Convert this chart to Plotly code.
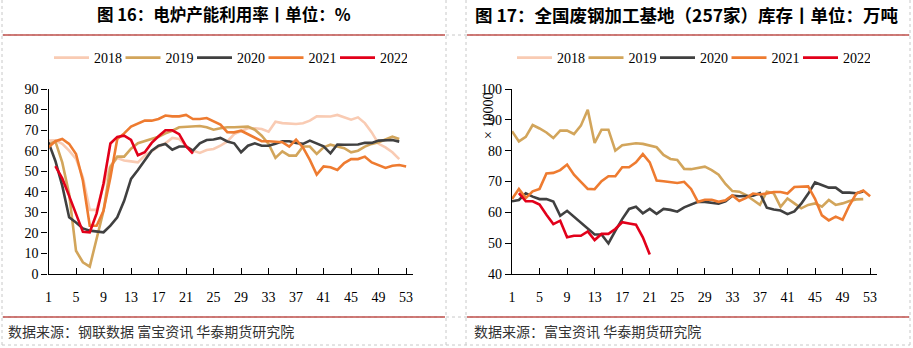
import plotly.graph_objects as go

W, H = 913, 348

# ---------------- data ----------------
weeks = list(range(1, 54))
x_ticks = list(range(1, 54, 4))

# 图16 电炉产能利用率 (%)
eaf_2018 = [64.9, 65, 63.3, 60, 56, 47, 31.2, 31.2, 43, 52.7, 56.4, 55.2, 54.8, 54.3, 57.6, 60, 62, 63.6, 66.2, 65.7,
            62.4, 60, 58.9, 60.3, 60.8, 62.4, 64.5, 68.1, 69.7, 70.9, 70.9, 70.5, 69.2, 74.1, 73.4, 73.3, 73, 73.3, 74.6, 76.7,
            76.6, 76.6, 77.4, 76.2, 75.1, 76.2, 73.4, 68.9, 63.3, 61.6, 59.2, 55.9]
eaf_2019 = [63, 64.5, 54.3, 38.9, 11.3, 5.7, 3.6, 17.5, 30.8, 51.9, 57.1, 57.1, 61, 63.6, 64.6, 65.7, 66.8, 68.4, 69.7, 71.4,
            71.7, 72, 72, 71.4, 70.2, 70.9, 71.4, 71.4, 71.4, 71.7, 70.2, 67.3, 63.3, 56.5, 59.7, 57.6, 57.6, 62, 62, 58.4,
            61.6, 62.9, 62, 61.2, 59.2, 60, 62, 63.3, 64.1, 65.5, 66.8, 65.7]
eaf_2020 = [64, 55, 43, 27.6, 25.1, 22.2, 21.1, 20.6, 20.3, 23.5, 27.6, 35.6, 46.3, 50.6, 55, 60, 62.4, 63.3, 60.5, 62,
            62, 60, 63.6, 65.2, 65.4, 66.2, 64.5, 63.6, 59.2, 62.4, 63.6, 62.4, 62.4, 63.3, 64.6, 64.6, 63.8, 63.3, 64.9, 63.6,
            62.1, 58.7, 63, 62.9, 62.9, 63, 63.8, 63.8, 64.9, 65.2, 65.2, 64.4]
eaf_2021 = [61.6, 64.6, 65.7, 63.3, 58.4, 45.4, 23.5, 23.5, 30.8, 47, 65.7, 68.4, 71.7, 73.3, 74.6, 74.6, 75.4, 77.1, 76.7, 76.7,
            77.4, 75.4, 75.4, 75.9, 74.3, 72.7, 69, 68.9, 69.7, 68.1, 66.5, 64.6, 64.6, 64.4, 64.1, 62, 65.4, 61.6, 55.5, 48.4,
            52.3, 51.9, 50.6, 54, 55.9, 55.9, 57.1, 54.3, 53, 51.6, 52.7, 53, 52.3]
eaf_2022 = [None, 52.5, 46.5, 38, 29.5, 20.5, 20.3, 29.5, 44, 63.5, 66.7, 67.3, 65.2, 57.8, 59.2, 63.8, 67, 69.9, 69.9, 68,
            62.2, 58.6]

# 图17 全国废钢加工基地库存 (万吨)
inv_2018 = [None]
inv_2019 = [86.3, 83, 84.5, 88.3, 87.2, 85.9, 84.1, 86.5, 86.5, 85.4, 88.1, 93.3, 82.5, 86.8, 86.8, 80, 81.8, 82.2, 82.4, 82.2,
            81.6, 81.1, 78.6, 77.3, 77, 74.1, 74, 74.4, 74.8, 73.7, 72.2, 69.2, 66.9, 66.7, 65.6, 64, 62.4, 66.7, 66.2, 61.8,
            64.5, 62.9, 61.3, 62.4, 62.9, 61.8, 64, 62.4, 62.9, 63.7, 64.2, 64.3]
inv_2020 = [63.6, 64, 66.2, 65.1, 64.3, 64.3, 63.5, 58.9, 60.5, 58.6, 56.8, 54.9, 52.8, 52.8, 49.9, 54, 57.8, 61.1, 61.8, 59.7,
            61.1, 59.5, 61.1, 60.8, 60.2, 61.6, 62.5, 63.4, 63.4, 63.2, 62.8, 63.6, 65.4, 65.2, 65.2, 65.4, 66.2, 61.5, 60.9, 60.6,
            59.4, 60.3, 62.8, 66, 69.7, 68.8, 68, 68, 66.4, 66.4, 66.2, 66.8]
inv_2021 = [64.3, 67.6, 64.6, 66.8, 67.6, 72.6, 72.8, 73.7, 75.5, 72.2, 69.9, 67.6, 67.5, 70.1, 71.7, 71.7, 74.6, 74.6, 76.2, 78.9,
            76.2, 70.3, 70.1, 69.7, 69.5, 69.9, 67.6, 63.4, 64.1, 64.1, 63.4, 63.9, 65.5, 63.7, 64.7, 66.1, 65.8, 66.1, 66.6, 66.6,
            66.1, 68.2, 68.2, 68.4, 64.4, 59, 57.4, 58.6, 57.6, 62.3, 66.1, 67.1, 65.2]
inv_2022 = [None, 66.2, 63.6, 63.6, 62.5, 59.2, 56.2, 57.3, 51.9, 52.4, 52.4, 53.8, 51, 53, 53, 54.6, 56.8, 56.4, 56, 51.9,
            46.3]

years = ["2018", "2019", "2020", "2021", "2022"]
colors = ["#F9CBB3", "#D2A55B", "#404040", "#EE7B30", "#E2001A"]
left_series = [eaf_2018, eaf_2019, eaf_2020, eaf_2021, eaf_2022]
right_series = [inv_2018, inv_2019, inv_2020, inv_2021, inv_2022]

title_left = "图 16：电炉产能利用率丨单位：%"
title_right = "图 17：全国废钢加工基地（257家）库存丨单位：万吨"
src_left = "数据来源：钢联数据 富宝资讯 华泰期货研究院"
src_right = "数据来源：富宝资讯 华泰期货研究院"

# ---------------- figure ----------------
fig = go.Figure()
for yr, col, s in zip(years, colors, left_series):
    fig.add_trace(go.Scatter(x=weeks[:len(s)], y=s, mode="lines", name=yr,
                             line=dict(color=col, width=2.6), xaxis="x", yaxis="y",
                             legend="legend", connectgaps=False))
for yr, col, s in zip(years, colors, right_series):
    fig.add_trace(go.Scatter(x=weeks[:len(s)], y=s, mode="lines", name=yr,
                             line=dict(color=col, width=2.6), xaxis="x2", yaxis="y2",
                             legend="legend2", connectgaps=False))

def px(v):
    return v / W

def py(v):
    return 1 - v / H

serif = "Liberation Serif, Times New Roman, serif"
tick_font = dict(family=serif, size=14, color="#000")
xcommon = dict(range=[1, 54], tickmode="array", tickvals=x_ticks, ticks="inside", ticklen=6,
               tickcolor="#000", showline=True, linecolor="#000", linewidth=1.3, showgrid=False,
               zeroline=False, tickfont=tick_font, ticklabelstandoff=10, fixedrange=True)
ycommon = dict(ticks="outside", ticklen=6, tickcolor="#000", showline=True, linecolor="#000",
               linewidth=1.3, showgrid=False, zeroline=False, tickfont=tick_font, fixedrange=True)

leg_common = dict(orientation="h", xanchor="left", yanchor="middle", itemwidth=35,
                  entrywidth=21.5, entrywidthmode="pixels",
                  font=dict(family=serif, size=14, color="#000"),
                  bgcolor="rgba(0,0,0,0)", itemclick=False, itemdoubleclick=False)

y_dom = [py(274), py(89)]
fig.update_layout(
    width=W, height=H, margin=dict(l=0, r=0, t=0, b=0, autoexpand=False),
    paper_bgcolor="white", plot_bgcolor="white",
    xaxis=dict(domain=[px(48.5), px(413)], anchor="y", **xcommon),
    yaxis=dict(domain=y_dom, range=[0, 90], dtick=10, anchor="x", **ycommon),
    xaxis2=dict(domain=[px(512), px(877)], anchor="y2", **xcommon),
    yaxis2=dict(domain=y_dom, range=[40, 100], dtick=10, anchor="x2", **ycommon),
    legend=dict(x=px(49), y=py(58), **leg_common),
    legend2=dict(x=px(512), y=py(58), **leg_common),
    showlegend=True,
)

cjk = "Noto Sans CJK SC, Noto Sans, sans-serif"
annotations = [
    dict(text="<b>" + title_left + "</b>", x=px(224), y=py(14), xref="paper", yref="paper",
         showarrow=False, xanchor="center", yanchor="middle", font=dict(family=cjk, size=16.5, color="#000")),
    dict(text="<b>" + title_right + "</b>", x=px(687), y=py(14), xref="paper", yref="paper",
         showarrow=False, xanchor="center", yanchor="middle", font=dict(family=cjk, size=17.5, color="#000")),
    dict(text=src_left, x=px(6), y=py(331), xref="paper", yref="paper", showarrow=False,
         xanchor="left", yanchor="middle", font=dict(family=cjk, size=14, color="#333")),
    dict(text=src_right, x=px(472), y=py(331), xref="paper", yref="paper", showarrow=False,
         xanchor="left", yanchor="middle", font=dict(family=cjk, size=14, color="#333")),
    dict(text="× 10000", x=px(489), y=py(116), xref="paper", yref="paper", showarrow=False,
         textangle=-90, xanchor="center", yanchor="middle",
         font=dict(family=serif, size=14, color="#000")),
]
fig.update_layout(annotations=annotations)

shapes = []
dash_col = "#C8C8C8"
for xv in [2, 446, 466, 910]:
    shapes.append(dict(type="line", xref="paper", yref="paper", x0=px(xv), x1=px(xv), y0=py(0), y1=py(345),
                       line=dict(color=dash_col, width=1, dash="dot")))
for yv in [35, 317, 345]:
    shapes.append(dict(type="line", xref="paper", yref="paper", x0=px(2), x1=px(910), y0=py(yv), y1=py(yv),
                       line=dict(color=dash_col, width=1, dash="dot")))
red = "#C0504D"
for (a, b) in [(3, 445), (467, 909)]:
    for yv in [35, 317]:
        shapes.append(dict(type="line", xref="paper", yref="paper", x0=px(a), x1=px(b), y0=py(yv), y1=py(yv),
                           line=dict(color=red, width=1.5)))
fig.update_layout(shapes=shapes)

fig.write_html("out.html", config={"displayModeBar": False})
